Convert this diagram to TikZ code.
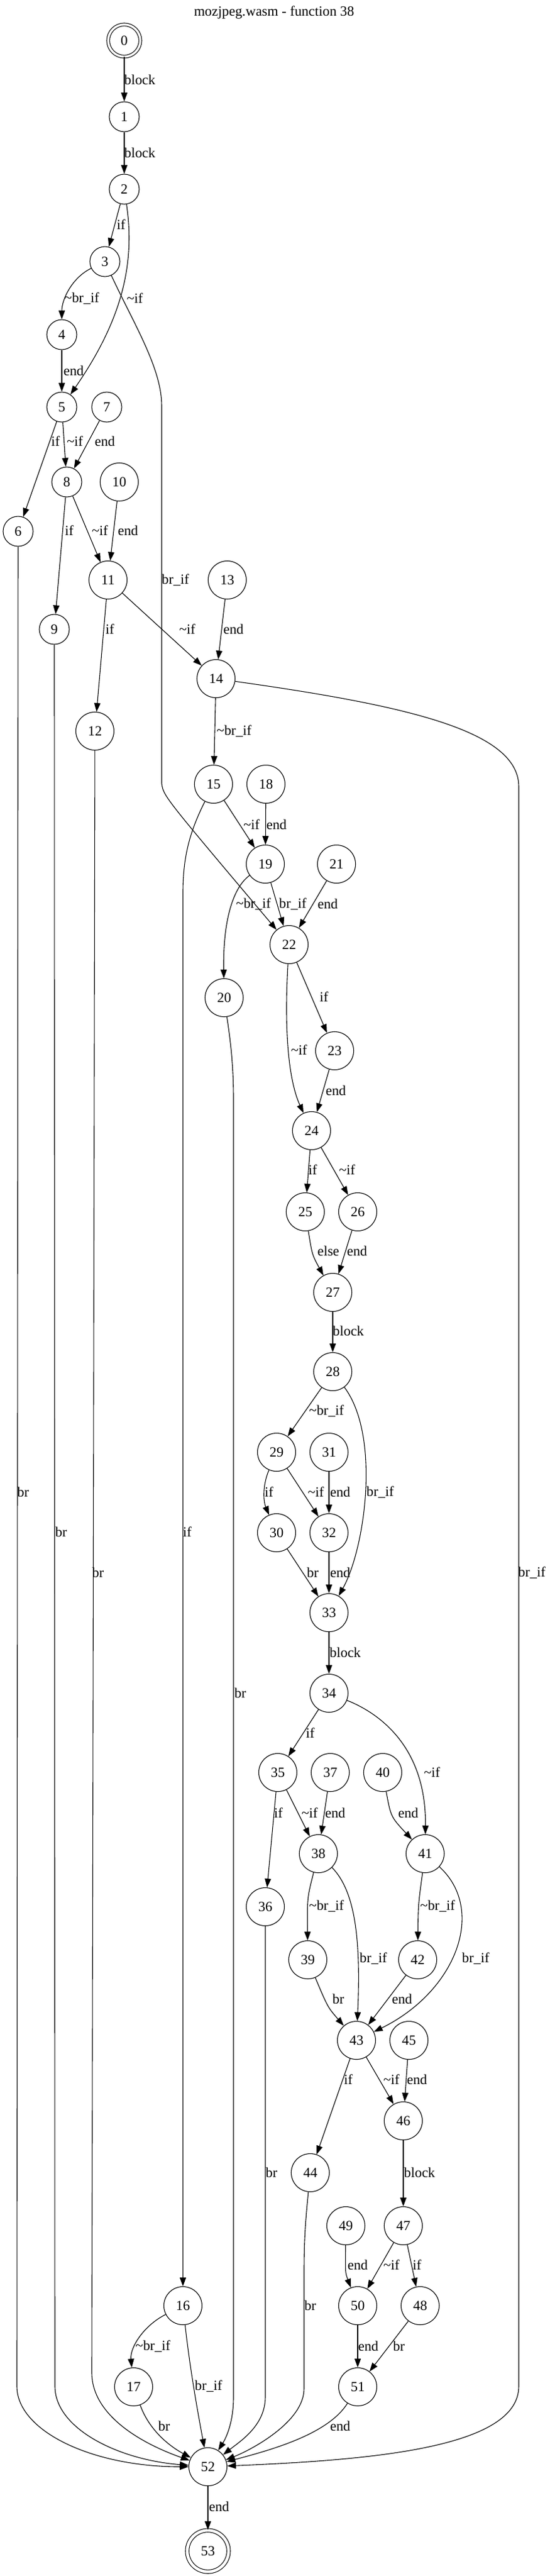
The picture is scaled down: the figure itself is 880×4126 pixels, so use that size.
\documentclass[tikz,border=0pt]{standalone}
\usepackage{fontspec}
\setmainfont{Liberation Serif}
\usetikzlibrary{arrows.meta}
\newcommand\gvfont{\fontsize{22.5}{26}\selectfont}
\newcommand\tld{\textasciitilde}
\begin{document}
\begin{tikzpicture}[x=1bp,y=-1bp,
  every node/.style={font=\gvfont},
  s1/.style={circle,draw,line width=1.1bp,minimum size=48bp,inner sep=0pt},
  s2/.style={circle,draw,line width=1.1bp,minimum size=61bp,inner sep=0pt},
  lb/.style={inner sep=0pt},
  e/.style={draw,line width=1.1bp,-{Triangle[length=14bp,width=10bp]}}]
\useasboundingbox (0,0) rectangle (880,4126);
\fill[white] (0,0) rectangle (880,4126);
\node[lb] (title) at (439,20) {mozjpeg.wasm - function 38};
% nodes
\node[s1,double,double distance=3.5bp,minimum size=51.5bp] (n0) at (199,65) {0};
\node[s1] (n1) at (199,187) {1};
\node[s1] (n2) at (199,303) {2};
\node[s1] (n3) at (168,419) {3};
\node[s1] (n4) at (99,536) {4};
\node[s1] (n5) at (99,652) {5};
\node[s1] (n7) at (171,652) {7};
\node[s1] (n8) at (107,772) {8};
\node[s2] (n10) at (191,772) {10};
\node[s1] (n6) at (29,851) {6};
\node[s2] (n11) at (173,929) {11};
\node[s2] (n13) at (364,929) {13};
\node[s1] (n9) at (87,1008) {9};
\node[s2] (n14) at (346,1087) {14};
\node[s2] (n12) at (152,1171) {12};
\node[s2] (n15) at (342,1256) {15};
\node[s2] (n18) at (426,1256) {18};
\node[s2] (n19) at (425,1384) {19};
\node[s2] (n21) at (539,1384) {21};
\node[s2] (n22) at (463,1513) {22};
\node[s2] (n20) at (359,1598) {20};
\node[s2] (n23) at (536,1683) {23};
\node[s2] (n24) at (499,1811) {24};
\node[s2] (n25) at (489,1941) {25};
\node[s2] (n26) at (573,1941) {26};
\node[s2] (n27) at (533,2070) {27};
\node[s2] (n28) at (533,2197) {28};
\node[s2] (n29) at (443,2326) {29};
\node[s2] (n31) at (527,2326) {31};
\node[s2] (n30) at (443,2455) {30};
\node[s2] (n32) at (527,2455) {32};
\node[s2] (n33) at (527,2583) {33};
\node[s2] (n34) at (527,2712) {34};
\node[s2] (n35) at (445,2839) {35};
\node[s2] (n37) at (529,2839) {37};
\node[s2] (n40) at (613,2839) {40};
\node[s2] (n38) at (510,2969) {38};
\node[s2] (n41) at (681,2969) {41};
\node[s2] (n36) at (425,3054) {36};
\node[s2] (n39) at (493,3139) {39};
\node[s2] (n42) at (669,3139) {42};
\node[s2] (n43) at (571,3268) {43};
\node[s2] (n45) at (655,3268) {45};
\node[s2] (n46) at (646,3397) {46};
\node[s2] (n44) at (497,3480) {44};
\node[s2] (n49) at (554,3565) {49};
\node[s2] (n47) at (646,3565) {47};
\node[s2] (n16) at (293,3693) {16};
\node[s2] (n50) at (573,3693) {50};
\node[s2] (n48) at (673,3693) {48};
\node[s2] (n17) at (214,3823) {17};
\node[s2] (n51) at (573,3823) {51};
\node[s2] (n52) at (333,3951) {52};
\node[s2,double,double distance=4.6bp,minimum size=66.3bp] (n53) at (333,4086) {53};
% edges
\draw[e] (n0) -- (n1);
\draw[e] (n1) -- (n2);
\draw[e] (n2) -- (n3);
\draw[e] (n2) .. controls (218,430) and (190,520) .. (n5);
\draw[e] (n3) .. controls (115,445) and (99,480) .. (n4);
\draw[e] (n3) .. controls (215,520) and (259,590) .. (259,650) -- (259,1255) .. controls (262,1275) .. (n22);
\draw[e] (n4) -- (n5);
\draw[e] (n5) -- (n6);
\draw[e] (n5) -- (n8);
\draw[e] (n7) -- (n8);
\draw[e] (n6) -- (27,3822) .. controls (27,3893) and (146,3951) .. (n52);
\draw[e] (n8) -- (n9);
\draw[e] (n8) -- (n11);
\draw[e] (n10) -- (n11);
\draw[e] (n9) -- (88,3822) .. controls (88,3890) and (190,3940) .. (n52);
\draw[e] (n11) -- (n12);
\draw[e] (n11) -- (n14);
\draw[e] (n13) -- (n14);
\draw[e] (n12) -- (147,3800) .. controls (147,3870) and (230,3915) .. (n52);
\draw[e] (n14) -- (n15);
\draw[e] (n14) .. controls (650,1130) and (831,1170) .. (831,1260) -- (831,3822) .. controls (831,3920) and (600,3940) .. (n52);
\draw[e] (n15) -- (n19);
\draw[e] (n18) -- (n19);
\draw[e] (n15) .. controls (305,1330) and (293,1370) .. (293,1430) -- (n16);
\draw[e] (n19) .. controls (375,1420) and (357,1470) .. (n20);
\draw[e] (n19) -- (n22);
\draw[e] (n21) -- (n22);
\draw[e] (n20) .. controls (368,1660) and (374,1700) .. (374,1760) -- (374,3840) .. controls (374,3880) and (362,3905) .. (n52);
\draw[e] (n22) -- (n23);
\draw[e] (n22) .. controls (455,1650) and (462,1730) .. (n24);
\draw[e] (n23) -- (n24);
\draw[e] (n24) -- (n25);
\draw[e] (n24) -- (n26);
\draw[e] (n25) .. controls (500,2010) .. (n27);
\draw[e] (n26) -- (n27);
\draw[e] (n27) -- (n28);
\draw[e] (n28) -- (n29);
\draw[e] (n28) .. controls (610,2300) and (585,2480) .. (n33.60);
\draw[e] (n29) .. controls (420,2380) and (422,2405) .. (n30);
\draw[e] (n29) -- (n32);
\draw[e] (n31) -- (n32);
\draw[e] (n30) -- (n33);
\draw[e] (n32) -- (n33);
\draw[e] (n33) -- (n34);
\draw[e] (n34) -- (n35);
\draw[e] (n34) .. controls (610,2745) and (683,2800) .. (n41);
\draw[e] (n35) -- (n36);
\draw[e] (n35) -- (n38);
\draw[e] (n37) -- (n38);
\draw[e] (n40) .. controls (626,2910) .. (n41);
\draw[e] (n38) .. controls (492,3040) .. (n39);
\draw[e] (n38) .. controls (570,3030) and (578,3110) .. (n43);
\draw[e] (n41) .. controls (670,3050) .. (n42);
\draw[e] (n41) .. controls (780,3060) and (730,3190) .. (n43);
\draw[e] (n39) .. controls (525,3215) .. (n43);
\draw[e] (n42) -- (n43);
\draw[e] (n43) -- (n44);
\draw[e] (n43) -- (n46);
\draw[e] (n45) -- (n46);
\draw[e] (n46) -- (n47);
\draw[e] (n36) -- (425,3839) .. controls (425,3885) and (385,3910) .. (n52);
\draw[e] (n44) .. controls (489,3560) and (487,3590) .. (487,3640) -- (487,3826) .. controls (487,3880) and (400,3925) .. (n52);
\draw[e] (n49) .. controls (553,3640) .. (n50);
\draw[e] (n47) -- (n50);
\draw[e] (n47) -- (n48);
\draw[e] (n16) .. controls (230,3725) and (208,3760) .. (n17);
\draw[e] (n16) .. controls (305,3800) and (318,3870) .. (n52);
\draw[e] (n50) -- (n51);
\draw[e] (n48) -- (n51);
\draw[e] (n17) .. controls (240,3895) and (275,3920) .. (n52);
\draw[e] (n51) .. controls (525,3900) and (430,3925) .. (n52);
\draw[e] (n52) -- (n53);
% edge labels
\node[lb] (l0) at (224,128) {block};
\node[lb] (l1) at (224,245) {block};
\node[lb] (l2) at (194,360) {if};
\node[lb] (l3) at (216,478) {\tld if};
\node[lb] (l4) at (131,478) {\tld br\_if};
\node[lb] (l5) at (281,929) {br\_if};
\node[lb] (l6) at (118,594) {end};
\node[lb] (l7) at (89,707) {if};
\node[lb] (l8) at (120,707) {\tld if};
\node[lb] (l9) at (168,707) {end};
\node[lb] (l10) at (111,850) {if};
\node[lb] (l11) at (160,850) {\tld if};
\node[lb] (l12) at (205,850) {end};
\node[lb] (l13) at (176,1008) {if};
\node[lb] (l14) at (300,1008) {\tld if};
\node[lb] (l15) at (374,1008) {end};
\node[lb] (l16) at (375,1171) {\tld br\_if};
\node[lb] (l17) at (852,2519) {br\_if};
\node[lb] (l18) at (403,1321) {\tld if};
\node[lb] (l19) at (443,1321) {end};
\node[lb] (l20) at (300,2454) {if};
\node[lb] (l21) at (37,2390) {br};
\node[lb] (l22) at (98,2454) {br};
\node[lb] (l23) at (157,2519) {br};
\node[lb] (l24) at (385,2712) {br};
\node[lb] (l25) at (406,1448) {\tld br\_if};
\node[lb] (l26) at (469,1448) {br\_if};
\node[lb] (l27) at (525,1448) {end};
\node[lb] (l28) at (519,1597) {if};
\node[lb] (l29) at (479,1682) {\tld if};
\node[lb] (l30) at (538,1747) {end};
\node[lb] (l31) at (501,1874) {if};
\node[lb] (l32) at (556,1874) {\tld if};
\node[lb] (l33) at (526,2004) {else};
\node[lb] (l34) at (572,2004) {end};
\node[lb] (l35) at (558,2132) {block};
\node[lb] (l36) at (523,2260) {\tld br\_if};
\node[lb] (l37) at (609,2390) {br\_if};
\node[lb] (l38) at (431,2390) {if};
\node[lb] (l39) at (506,2390) {\tld if};
\node[lb] (l40) at (545,2390) {end};
\node[lb] (l41) at (501,2519) {br};
\node[lb] (l42) at (545,2519) {end};
\node[lb] (l43) at (553,2647) {block};
\node[lb] (l44) at (497,2776) {if};
\node[lb] (l45) at (692,2839) {\tld if};
\node[lb] (l46) at (446,2904) {if};
\node[lb] (l47) at (496,2904) {\tld if};
\node[lb] (l48) at (537,2904) {end};
\node[lb] (l49) at (654,2904) {end};
\node[lb] (l50) at (523,3053) {\tld br\_if};
\node[lb] (l51) at (598,3137) {br\_if};
\node[lb] (l52) at (701,3053) {\tld br\_if};
\node[lb] (l53) at (762,3137) {br\_if};
\node[lb] (l54) at (542,3202) {br};
\node[lb] (l55) at (644,3202) {end};
\node[lb] (l56) at (558,3331) {if};
\node[lb] (l57) at (627,3331) {\tld if};
\node[lb] (l58) at (668,3331) {end};
\node[lb] (l59) at (672,3480) {block};
\node[lb] (l60) at (435,3480) {br};
\node[lb] (l61) at (497,3693) {br};
\node[lb] (l62) at (573,3628) {end};
\node[lb] (l63) at (627,3628) {\tld if};
\node[lb] (l64) at (668,3628) {if};
\node[lb] (l65) at (245,3758) {\tld br\_if};
\node[lb] (l66) at (334,3822) {br\_if};
\node[lb] (l67) at (590,3758) {end};
\node[lb] (l68) at (639,3758) {br};
\node[lb] (l69) at (263,3886) {br};
\node[lb] (l70) at (545,3886) {end};
\node[lb] (l71) at (351,4015) {end};
\end{tikzpicture}
\end{document}
